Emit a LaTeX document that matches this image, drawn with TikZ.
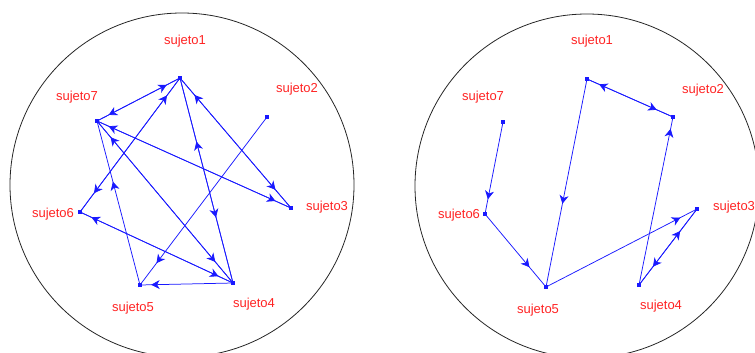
\documentclass[tikz,border=0pt]{standalone}
\usepackage{fontspec}
\setmainfont{Liberation Sans}
\usetikzlibrary{arrows.meta,decorations.markings}
\definecolor{lbl}{RGB}{255,35,35}
\definecolor{ln}{RGB}{25,25,255}
\tikzset{
  pt/.style={rectangle, fill=ln, inner sep=0pt, minimum size=3.2pt},
  lab/.style={text=lbl, font=\fontsize{13}{15}\selectfont, inner sep=0pt},
  rim/.style={draw=black!85, line width=0.8pt},
  edge/.style={draw=ln, line width=0.75pt},
  tip at/.style={postaction={decorate}, decoration={markings, mark=at position #1 with {\arrow{Stealth[length=8.5pt,width=9pt,inset=2.6pt]}}}},
}
\newcommand\lnk[3]{\path[edge,tip at=#3] (#1.center) -- (#2.center);}
\begin{document}
\begin{tikzpicture}[x=1pt,y=-1pt]
\useasboundingbox (0,0) rectangle (755,353);
% circles
\draw[rim] (182,185) circle[radius=172];
\draw[rim] (587,186) circle[radius=172];
% left points
\node[pt] (L1) at (180,78) {};
\node[pt] (L2) at (267,117) {};
\node[pt] (L3) at (291,208) {};
\node[pt] (L4) at (233,283) {};
\node[pt] (L5) at (140,285) {};
\node[pt] (L6) at (80,212) {};
\node[pt] (L7) at (97,121) {};
% left labels
\node[lab] (tL1) at (185,41) {sujeto1};
\node[lab] (tL2) at (297,89) {sujeto2};
\node[lab] (tL3) at (327,207) {sujeto3};
\node[lab] (tL4) at (254,304) {sujeto4};
\node[lab] (tL5) at (133,308) {sujeto5};
\node[lab] (tL6) at (53,214) {sujeto6};
\node[lab] (tL7) at (77,97) {sujeto7};
% left edges
\lnk{L1}{L7}{0.86}
\lnk{L7}{L1}{0.84}
\lnk{L6}{L1}{0.87}
\lnk{L1}{L6}{0.86}
\lnk{L3}{L1}{0.87}
\lnk{L1}{L3}{0.86}
\lnk{L4}{L1}{0.69}
\lnk{L1}{L4}{0.68}
\lnk{L3}{L7}{0.94}
\lnk{L7}{L3}{0.92}
\lnk{L4}{L7}{0.90}
\lnk{L7}{L4}{0.87}
\lnk{L5}{L7}{0.63}
\lnk{L4}{L6}{0.925}
\lnk{L6}{L4}{0.905}
\lnk{L2}{L5}{0.87}
\lnk{L4}{L5}{0.88}
% right points
\node[pt] (R1) at (587,79) {};
\node[pt] (R2) at (673,117) {};
\node[pt] (R3) at (697,209) {};
\node[pt] (R4) at (639,285) {};
\node[pt] (R5) at (546,287) {};
\node[pt] (R6) at (485,214) {};
\node[pt] (R7) at (503,122) {};
% right labels
\node[lab] (tR1) at (592,41) {sujeto1};
\node[lab] (tR2) at (703,90) {sujeto2};
\node[lab] (tR3) at (734,207) {sujeto3};
\node[lab] (tR4) at (661,306) {sujeto4};
\node[lab] (tR5) at (538,310) {sujeto5};
\node[lab] (tR6) at (459,215) {sujeto6};
\node[lab] (tR7) at (483,97) {sujeto7};
% right edges
\lnk{R7}{R6}{0.84}
\lnk{R6}{R5}{0.73}
\lnk{R1}{R5}{0.60}
\lnk{R2}{R1}{0.86}
\lnk{R1}{R2}{0.81}
\lnk{R4}{R2}{0.93}
\lnk{R5}{R3}{0.89}
\lnk{R3}{R4}{0.76}
\lnk{R4}{R3}{0.71}
\end{tikzpicture}
\end{document}
